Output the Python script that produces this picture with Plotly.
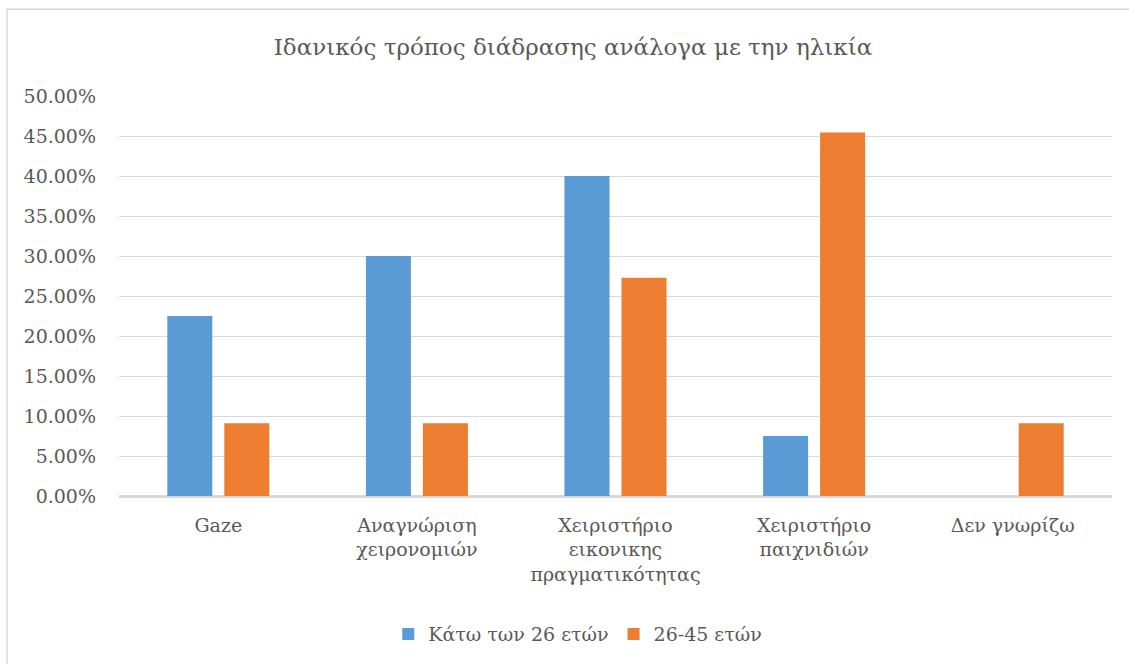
import plotly.graph_objects as go

categories = [
    "Gaze",
    "Αναγνώριση<br>χειρονομιών",
    "Χειριστήριο<br>εικονικης<br>πραγματικότητας",
    "Χειριστήριο<br>παιχνιδιών",
    "Δεν γνωρίζω",
]
under_26 = [0.225, 0.30, 0.40, 0.075, 0.0]
age_26_45 = [0.0909, 0.0909, 0.2727, 0.4545, 0.0909]
y_ticks = [0, 0.05, 0.10, 0.15, 0.20, 0.25, 0.30, 0.35, 0.40, 0.45, 0.50]

FONT = "DejaVu Serif"
TEXT = "#595959"
GRID = "#D9D9D9"

fig = go.Figure()
fig.add_trace(go.Bar(name="Κάτω των 26 ετών", x=categories, y=under_26,
                     marker=dict(color="#5B9BD5", line=dict(width=0))))
fig.add_trace(go.Bar(name="26-45 ετών", x=categories, y=age_26_45,
                     marker=dict(color="#ED7D31", line=dict(width=0))))

fig.update_layout(
    width=1129, height=664,
    margin=dict(l=119, r=17, t=96, b=167),
    paper_bgcolor="white", plot_bgcolor="white",
    font=dict(family=FONT, color=TEXT, size=19),
    title=dict(text="Ιδανικός τρόπος διάδρασης ανάλογα με την ηλικία",
               x=573 / 1129, xref="container", y=1 - 47 / 664, yref="container",
               yanchor="middle", xanchor="center",
               font=dict(size=23, color=TEXT, family=FONT)),
    barmode="group", bargap=0.426, bargroupgap=0.21,
    showlegend=True,
    legend=dict(orientation="h", x=0.462, xanchor="center", y=-0.342,
                yanchor="middle", font=dict(size=19, color=TEXT, family=FONT),
                itemwidth=30, traceorder="normal"),
    shapes=[dict(type="rect", xref="paper", yref="paper",
                 x0=-0.1128, y0=-0.45, x1=1.03, y1=1.217,
                 line=dict(color=GRID, width=1.5), fillcolor="rgba(0,0,0,0)",
                 layer="below")],
)
fig.update_yaxes(range=[0, 0.5], tickvals=y_ticks, tickformat=".2%",
                 showgrid=True, gridcolor=GRID, gridwidth=1,
                 zeroline=True, zerolinecolor=GRID, zerolinewidth=1.5,
                 showline=False, ticks="", ticklabelstandoff=22,
                 tickfont=dict(size=19, color=TEXT, family=FONT))
fig.update_xaxes(showline=True, linecolor=GRID, linewidth=1.5,
                 ticks="", ticklabelstandoff=11, tickangle=0,
                 tickfont=dict(size=19, color=TEXT, family=FONT))

fig.write_html("out.html")
